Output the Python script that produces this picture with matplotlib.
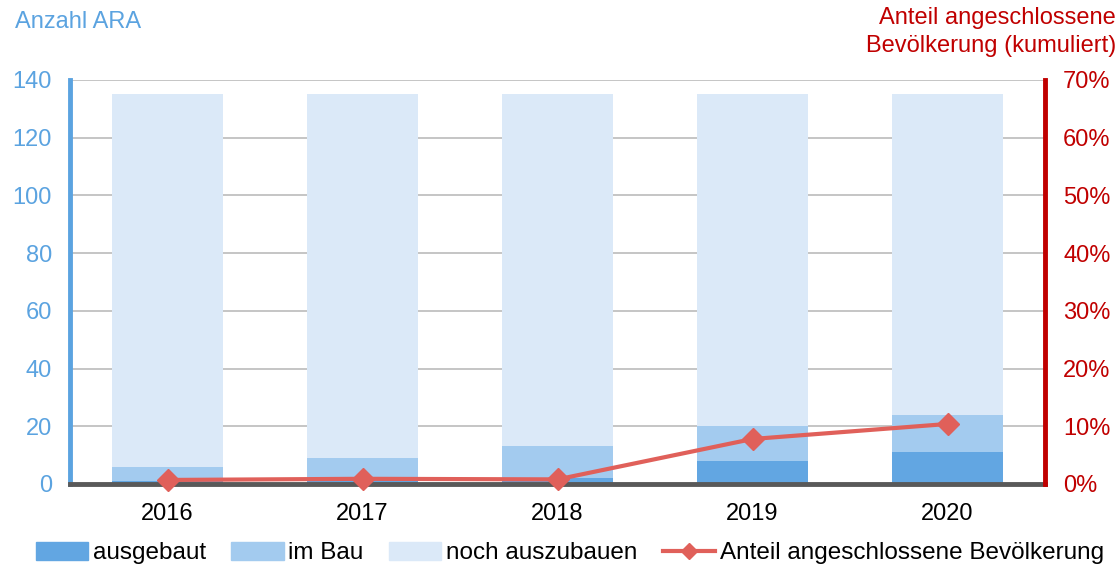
import matplotlib
matplotlib.use("Agg")
import matplotlib.pyplot as plt
from matplotlib.patches import Patch
from matplotlib.lines import Line2D
import numpy as np

plt.rcParams['font.family'] = ['Liberation Sans', 'DejaVu Sans']

years = ["2016", "2017", "2018", "2019", "2020"]
ausgebaut = [1, 2, 2, 8, 11]
im_bau = [5, 7, 11, 12, 13]
noch_auszubauen = [129, 126, 122, 115, 111]
anteil = [0.7, 0.9, 0.8, 7.8, 10.4]

c_aus = "#62a6e2"
c_bau = "#a3cbef"
c_noch = "#dbe9f8"
c_line = "#e0605a"
c_left = "#5ba3e0"
c_right = "#c00000"

fs = 17

fig = plt.figure(figsize=(11.18, 5.66), dpi=100)
ax = fig.add_axes([70/1118, 1-484/566, (1045-70)/1118, (484-80)/566])
x = np.arange(len(years))
w = 0.57
ax.bar(x, ausgebaut, w, color=c_aus, zorder=2)
ax.bar(x, im_bau, w, bottom=ausgebaut, color=c_bau, zorder=2)
ax.bar(x, noch_auszubauen, w, bottom=np.array(ausgebaut)+np.array(im_bau), color=c_noch, zorder=2)
ax.set_xlim(-0.5, 4.5)
ax.set_ylim(0, 140)
ax.set_yticks(range(0, 141, 20))
ax.yaxis.grid(True, color="#c0c0c0", linewidth=1.3, zorder=0)
ax.set_axisbelow(True)
ax.set_xticks(x)
ax.set_xticklabels(years, fontsize=fs, color="#000000")
ax.tick_params(axis='x', length=0, pad=14)
ax.tick_params(axis='y', length=0, pad=13, labelsize=fs, labelcolor=c_left)
for s in ["top", "right"]:
    ax.spines[s].set_visible(False)
ax.spines["left"].set_color(c_left)
ax.spines["left"].set_linewidth(3.5)
ax.spines["bottom"].set_color("#595959")
ax.spines["bottom"].set_linewidth(3.5)
ax.spines["bottom"].set_zorder(3)

ax2 = ax.twinx()
ax2.set_ylim(0, 70)
ax2.set_yticks(range(0, 71, 10))
ax2.set_yticklabels([f"{v}%" for v in range(0, 71, 10)])
ax2.tick_params(axis='y', length=0, pad=13, labelsize=fs, labelcolor=c_right)
for s in ["top", "left", "bottom"]:
    ax2.spines[s].set_visible(False)
ax2.spines["right"].set_color(c_right)
ax2.spines["right"].set_linewidth(3.5)
ax2.plot(x, anteil, color=c_line, linewidth=3, marker="D", markersize=11,
         clip_on=False, zorder=5)

fig.text(15/1118, 1-22/566, "Anzahl ARA", color=c_left, fontsize=fs, ha="left", va="center")
fig.text(1116/1118, 1-32/566, "Anteil angeschlossene\nBevölkerung (kumuliert)", color=c_right,
         fontsize=fs, ha="right", va="center", linespacing=1.35)

handles = [Patch(color=c_aus), Patch(color=c_bau), Patch(color=c_noch),
           Line2D([], [], color=c_line, linewidth=3, marker="D", markersize=8)]
labels = ["ausgebaut", "im Bau", "noch auszubauen", "Anteil angeschlossene Bevölkerung"]
fig.legend(handles, labels, loc="center", bbox_to_anchor=(570/1118, 1-553/566), ncol=4,
           frameon=False, fontsize=17.5, handlelength=2.15, handleheight=0.75,
           handletextpad=0.2, columnspacing=1.05, borderaxespad=0)

fig.savefig("out.png", dpi=100)
